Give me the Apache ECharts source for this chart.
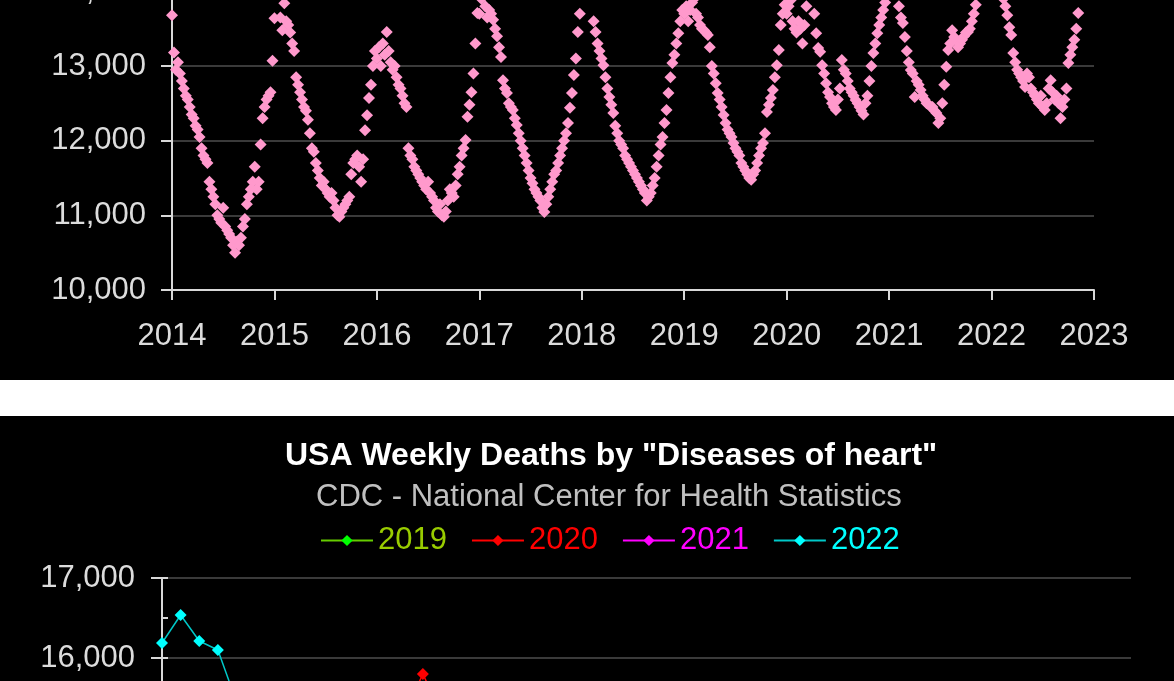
<!DOCTYPE html>
<html>
<head>
<meta charset="utf-8">
<script src="https://cdn.jsdelivr.net/npm/echarts@6/dist/echarts.min.js"></script>
<style>
  html, body { margin: 0; padding: 0; background: #fff; }
  #top-chart { width: 1174px; height: 380px; background: #000; }
  #gap { width: 1174px; height: 36px; background: #fff; }
  #bottom-chart { width: 1174px; height: 265px; background: #000; }
</style>
</head>
<body>
<div id="top-chart"></div>
<div id="gap"></div>
<div id="bottom-chart"></div>
<script>
// top chart: weekly values per year
const years = [2014, 2015, 2016, 2017, 2018, 2019, 2020, 2021, 2022]
const w2014 = [13680, 13180, 12950, 13050, 12900, 12800, 12700, 12600, 12550, 12450, 12350, 12300, 12200, 12150, 12050, 11900, 11800, 11750, 11700, 11450, 11350, 11250, 11150, 11000, 10950, 10900, 11100, 10850, 10800, 10750, 10700, 10600, 10500, 10650, 10600, 10700, 10850, 10950, 11150, 11250, 11350, 11450, 11650, 11350, 11450, 11950, 12300, 12450, 12550, 12600, 12650, 13070]
const w2015 = [13640, 14200, 14500, 13650, 13480, 13840, 13600, 13550, 13450, 13300, 13200, 12850, 12750, 12650, 12550, 12450, 12400, 12280, 12100, 11900, 11850, 11700, 11600, 11500, 11400, 11450, 11350, 11300, 11250, 11300, 11200, 11100, 11000, 10980, 11050, 11100, 11150, 11200, 11250, 11550, 11700, 11750, 11800, 11650, 11450, 11750, 12140, 12340, 12570, 12750, 13000, 13200]
const w2016 = [13100, 13250, 13000, 13300, 13150, 13455, 13200, 13050, 12950, 13000, 12850, 12750, 12700, 12600, 12500, 12450, 11900, 11800, 11750, 11650, 11600, 11550, 11500, 11450, 11400, 11350, 11450, 11300, 11250, 11200, 11100, 11050, 11150, 11000, 10980, 11050, 11200, 11350, 11300, 11250, 11400, 11550, 11650, 11800, 11900, 12010, 12320, 12480, 12650, 12900, 13300, 13710]
const w2017 = [13700, 13900, 14100, 13800, 13650, 13750, 13700, 13620, 13500, 13400, 13250, 13120, 12810, 12700, 12640, 12500, 12450, 12410, 12300, 12210, 12100, 12000, 11900, 11800, 11700, 11600, 11500, 11430, 11350, 11300, 11250, 11200, 11100, 11045, 11150, 11250, 11350, 11450, 11550, 11600, 11700, 11800, 11900, 12000, 12100, 12235, 12440, 12640, 12880, 13100, 13455, 13700]
const w2018 = [14200, 14800, 15200, 14900, 14500, 14000, 13600, 13455, 13300, 13200, 13100, 13010, 12850, 12700, 12585, 12480, 12370, 12200, 12100, 12000, 11950, 11900, 11800, 11750, 11700, 11650, 11600, 11550, 11500, 11450, 11400, 11350, 11300, 11200, 11250, 11300, 11400, 11500, 11650, 11800, 11950, 12050, 12235, 12410, 12640, 12850, 13040, 13150, 13300, 13440, 13600, 13750]
const w2019 = [13700, 13800, 13600, 13750, 13850, 13900, 13700, 13650, 13550, 13500, 13480, 13450, 13415, 13250, 13000, 12900, 12770, 12640, 12550, 12450, 12345, 12235, 12150, 12100, 12050, 11970, 11900, 11850, 11800, 11700, 11650, 11600, 11550, 11500, 11475, 11550, 11600, 11700, 11800, 11900, 11970, 12100, 12385, 12480, 12570, 12680, 12850, 13010, 13215, 13550, 13700, 13820]
const w2020 = [13700, 13800, 13880, 13600, 13500, 13450, 13600, 13500, 13300, 13550, 13800, 14000, 14300, 14100, 13700, 13440, 13240, 13190, 13010, 12900, 12770, 12650, 12585, 12500, 12450, 12410, 12550, 12700, 13080, 12950, 12900, 12800, 12700, 12650, 12600, 12545, 12500, 12450, 12400, 12350, 12500, 12600, 12800, 13000, 13175, 13300, 13440, 13550, 13650, 13750, 13850, 14000]
const w2021 = [14500, 14700, 14400, 14200, 14000, 13800, 13650, 13575, 13390, 13200, 13050, 12945, 12900, 12585, 12800, 12750, 12680, 12600, 12550, 12500, 12480, 12460, 12450, 12400, 12370, 12235, 12300, 12500, 12750, 12990, 13215, 13300, 13480, 13390, 13350, 13250, 13300, 13350, 13400, 13450, 13455, 13500, 13600, 13700, 13820, 14000, 14200, 14300, 14400, 14600, 14800, 15000]
const w2022 = [15000, 15400, 15200, 14700, 14300, 14000, 13900, 13800, 13680, 13520, 13415, 13175, 13050, 12950, 12900, 12850, 12800, 12720, 12900, 12850, 12700, 12650, 12600, 12550, 12500, 12600, 12450, 12410, 12500, 12700, 12810, 12650, 12550, 12600, 12500, 12300, 12450, 12550, 12700, 13040, 13150, 13250, 13350, 13500, 13710]
const weekly = [w2014, w2015, w2016, w2017, w2018, w2019, w2020, w2021, w2022]
const topTicks = [2014, 2015, 2016, 2017, 2018, 2019, 2020, 2021, 2022, 2023]

// bottom chart: weekly deaths by year
const weeks = Array.from({length: 53}, (_, i) => String(i + 1))
const d2019 = [14100, 14300, 14000, 13900, 13800, 13700, 13900, 13800, 13600, 13300, 13100, 13000, 12900, 12800, 12700, 12600, 12500, 12400, 12300, 12200, 12100, 12100, 12000, 11900, 11900, 11800, 11800, 11700, 11700, 11600, 11600, 11500, 11500, 11500, 11400, 11500, 11500, 11600, 11700, 11800, 11900, 12000, 12100, 12200, 12300, 12500, 12600, 12700, 12800, 13000, 13200, 13400]
const d2020 = [13900, 14000, 13800, 13700, 13600, 13500, 13400, 13400, 13300, 13300, 13400, 13800, 14600, 15300, 15800, 15300, 14600, 14000, 13500, 13100, 12900, 12800, 12700, 12800, 12900, 13200, 13500, 13600, 13500, 13300, 13100, 12900, 12800, 12700, 12700, 12600, 12700, 12800, 12900, 13000, 13100, 13300, 13500, 13800, 14100, 14400, 14700, 14900, 15100, 15300, 15400, 15500, 15600]
const d2021 = [15500, 15300, 15000, 14600, 14200, 13800, 13500, 13300, 13100, 13000, 12900, 12900, 12800, 12800, 12700, 12700, 12600, 12500, 12500, 12400, 12400, 12300, 12300, 12300, 12200, 12200, 12200, 12300, 12400, 12600, 12900, 13200, 13400, 13500, 13500, 13400, 13300, 13200, 13100, 13100, 13000, 13100, 13200, 13300, 13400, 13500, 13700, 13800, 14000, 14200, 14400, 14700]
const d2022 = [16188, 16537, 16212, 16100, 15450, 14900, 14400, 14000, 13700, 13500, 13300, 13200, 13100, 13000, 12900, 12800, 12700, 12700, 12600, 12500, 12500, 12400, 12400, 12300, 12300, 12300, 12400, 12400, 12500, 12500, 12500, 12400, 12400, 12300, 12300, 12400, 12500, 12600, 12700, 12800]

const FONT = '"Liberation Sans", Arial, sans-serif'
const fmt = v => v.toLocaleString('en-US')

let points = []
weekly.forEach((arr, k) => {
  arr.forEach((v, i) => points.push([years[k] + i / 52, v]))
})

let topChart = echarts.init(document.getElementById('top-chart'))
topChart.setOption({
  backgroundColor: '#000',
  animation: false,
  grid: {left: 172, right: 80, top: -158, bottom: 90, outerBoundsMode: 'none', containLabel: false},
  xAxis: {
    type: 'value',
    min: topTicks[0],
    max: topTicks[topTicks.length - 1],
    interval: 1,
    axisLine: {lineStyle: {color: '#d8d8d8', width: 2}},
    axisTick: {length: 10, lineStyle: {color: '#d8d8d8', width: 2}},
    axisLabel: {color: '#dcdcdc', fontSize: 31, fontFamily: FONT, margin: 31, formatter: v => String(v)},
    splitLine: {show: false}
  },
  yAxis: {
    type: 'value',
    min: 10000,
    max: 16000,
    interval: 1000,
    axisLine: {show: true, lineStyle: {color: '#d8d8d8', width: 2}},
    axisTick: {show: true, length: 11, lineStyle: {color: '#d8d8d8', width: 2}},
    axisLabel: {color: '#dcdcdc', fontSize: 31, fontFamily: FONT, margin: 26, formatter: fmt},
    splitLine: {lineStyle: {color: '#3a3a3a', width: 2}}
  },
  series: [{
    type: 'scatter',
    symbol: 'diamond',
    symbolSize: 12,
    itemStyle: {color: '#ff99cc', opacity: 1},
    data: points
  }]
})

const legendItems = [
  {name: '2019', text: '#99cc00', line: '#66cc00', mark: '#00ff00', data: d2019},
  {name: '2020', text: '#ff0000', line: '#ff0000', mark: '#ff0000', data: d2020},
  {name: '2021', text: '#ff00ff', line: '#ff00ff', mark: '#ff00ff', data: d2021},
  {name: '2022', text: '#00ffff', line: '#00c8c8', mark: '#00ffff', data: d2022}
]

let bottomChart = echarts.init(document.getElementById('bottom-chart'))
bottomChart.setOption({
  backgroundColor: '#000',
  animation: false,
  title: [
    {text: 'USA Weekly Deaths by "Diseases of heart"', left: 280, top: 19,
      textStyle: {color: '#fff', fontSize: 32, fontWeight: 'bold', fontFamily: FONT}},
    {text: 'CDC - National Center for Health Statistics', left: 311, top: 61,
      textStyle: {color: '#c0c0c0', fontSize: 31, fontWeight: 'normal', fontFamily: FONT}}
  ],
  legend: {
    left: 315,
    top: 104,
    itemWidth: 52,
    itemHeight: 14,
    itemGap: 24,
    textStyle: {fontSize: 31, fontFamily: FONT},
    data: legendItems.map(it => ({name: it.name, textStyle: {color: it.text}}))
  },
  grid: {left: 162, right: 43, top: 162, bottom: -457, outerBoundsMode: 'none', containLabel: false},
  xAxis: {
    type: 'category',
    data: weeks,
    boundaryGap: false,
    axisLine: {lineStyle: {color: '#d8d8d8'}},
    axisLabel: {show: false},
    axisTick: {show: false}
  },
  yAxis: [{
    type: 'value',
    min: 10000,
    max: 17000,
    interval: 1000,
    axisLine: {show: true, lineStyle: {color: '#d8d8d8', width: 2}},
    axisTick: {show: true, length: 11, lineStyle: {color: '#d8d8d8', width: 2}},
    axisLabel: {color: '#dcdcdc', fontSize: 31, fontFamily: FONT, margin: 27, formatter: fmt},
    splitLine: {lineStyle: {color: '#3a3a3a', width: 2}}
  }, {
    type: 'value',
    position: 'left',
    min: 10000,
    max: 17000,
    interval: 500,
    axisLine: {show: false},
    axisTick: {show: true, inside: true, length: 6, lineStyle: {color: '#d8d8d8', width: 2}},
    axisLabel: {show: false},
    splitLine: {show: false}
  }],
  series: legendItems.map(it => ({
    name: it.name,
    type: 'line',
    symbol: 'diamond',
    symbolSize: 12,
    showSymbol: true,
    showAllSymbol: true,
    lineStyle: {color: it.line, width: 1.5},
    itemStyle: {color: it.mark},
    data: it.data
  }))
})
</script>
</body>
</html>
